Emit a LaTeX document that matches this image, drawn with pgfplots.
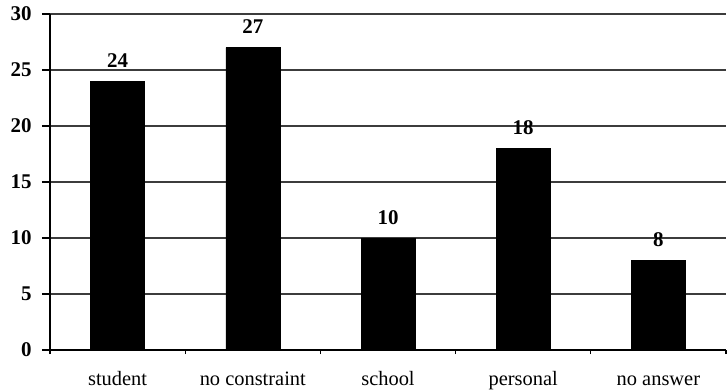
\documentclass[border=0pt]{standalone}
\usepackage{fontspec}
\setmainfont{Liberation Serif}
\usepackage{pgfplots}
\pgfplotsset{compat=1.18}
\definecolor{gridgray}{HTML}{3C3C3C}
\begin{document}
\begin{tikzpicture}
\begin{axis}[
  name=ax,
  scale only axis,
  width=676bp, height=336bp,
  xmin=-0.5, xmax=4.5,
  ymin=0, ymax=30,
  ytick={0,5,...,30},
  xtick={0,1,2,3,4},
  xticklabels={student,no constraint,school,personal,no answer},
  minor xtick={-0.5,0.5,1.5,2.5,3.5,4.5},
  major x tick style={draw=none},
  minor x tick style={black, line width=1.2bp},
  minor tick length=4bp,
  major tick length=8bp,
  tick align=outside,
  axis x line*=bottom,
  axis y line*=left,
  axis line style={black, line width=1.3bp, -},
  y tick style={black, line width=1.3bp},
  ymajorgrids,
  major grid style={gridgray, line width=1.3bp},
  /pgf/number format/assume math mode=true,
  yticklabel style={font=\fontsize{21}{22}\selectfont\bfseries, xshift=-7bp},
  xticklabel style={font=\fontsize{20.5}{22}\selectfont, anchor=base, yshift=-27bp},
  ybar,
  bar width=54bp,
  nodes near coords,
  nodes near coords style={font=\fontsize{21}{22}\selectfont\bfseries, anchor=base, yshift=14bp},
  clip=false,
]
\addplot[fill=black, draw=black] coordinates {(0,24) (1,27) (2,10) (3,18) (4,8)};
\end{axis}
\pgfresetboundingbox
\path ([xshift=-50bp,yshift=-40bp]ax.south west) rectangle ([xshift=2bp,yshift=14bp]ax.north east);
\end{tikzpicture}
\end{document}
